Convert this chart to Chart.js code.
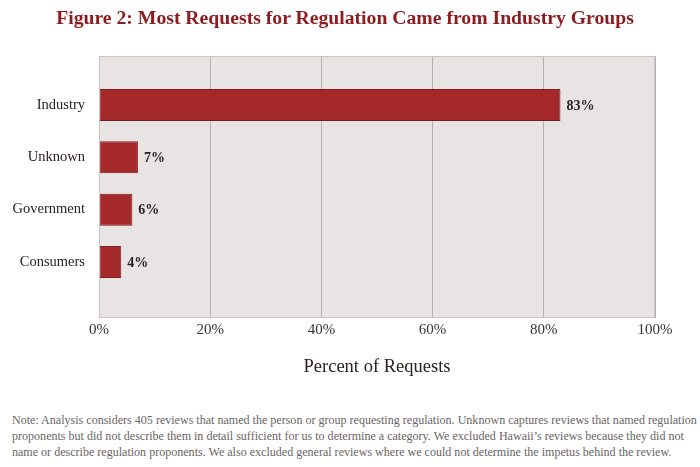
<!DOCTYPE html>
<html>
<head>
<meta charset="utf-8">
<script src="https://cdn.jsdelivr.net/npm/chart.js@4.4.1/dist/chart.umd.min.js"></script>
<style>
  html, body { margin: 0; padding: 0; background: #ffffff; }
  #wrap { position: relative; width: 700px; height: 467px; overflow: hidden; }
  #box { position: absolute; left: 0; top: 0; width: 700px; height: 392px; }
  #title { position: absolute; left: 0; top: 5px; width: 690px; text-align: center;
           font-family: "Liberation Serif", serif; font-weight: bold; font-size: 19.7px; line-height: 24px;
           color: #8c1c1e; white-space: nowrap; }
  #note { position: absolute; left: 12px; top: 412px; width: 700px; font-family: "Liberation Serif", serif;
          font-size: 12.05px; line-height: 16px; color: #6b6462; white-space: nowrap; }
</style>
</head>
<body>
<div id="wrap">
  <div id="box"><canvas id="c"></canvas></div>
  <div id="title">Figure 2: Most Requests for Regulation Came from Industry Groups</div>
  <div id="note">Note: Analysis considers 405 reviews that named the person or group requesting regulation. Unknown captures reviews that named regulation<br>proponents but did not describe them in detail sufficient for us to determine a category. We excluded Hawaii’s reviews because they did not<br>name or describe regulation proponents. We also excluded general reviews where we could not determine the impetus behind the review.</div>
</div>
<script>
const categories = ["Industry", "Unknown", "Government", "Consumers"];
const percentValues = [83, 7, 6, 4];
const xTickValues = [0, 20, 40, 60, 80, 100];

const SERIF = '"Liberation Serif", "Times New Roman", serif';

const plotBackground = {
  id: 'plotBackground',
  beforeDraw(chart) {
    const { ctx, chartArea: a } = chart;
    ctx.save();
    ctx.fillStyle = '#e8e4e3';
    ctx.fillRect(a.left, a.top, a.right - a.left, a.bottom - a.top);
    ctx.restore();
  },
  afterDatasetsDraw(chart) {
    const { ctx, chartArea: a } = chart;
    ctx.save();
    ctx.strokeStyle = '#c9c4c1';
    ctx.lineWidth = 1;
    ctx.strokeRect(a.left + 0.5, a.top + 0.5, a.right - a.left - 1, a.bottom - a.top - 1);
    ctx.restore();
  }
};

const valueLabels = {
  id: 'valueLabels',
  afterDatasetsDraw(chart) {
    const { ctx } = chart;
    const meta = chart.getDatasetMeta(0);
    ctx.save();
    ctx.font = 'bold 14px ' + SERIF;
    ctx.fillStyle = '#2b2220';
    ctx.textAlign = 'left';
    ctx.textBaseline = 'middle';
    meta.data.forEach((bar, i) => {
      ctx.fillText(percentValues[i] + '%', bar.x + 6, bar.y + 1);
    });
    ctx.restore();
  }
};

new Chart(document.getElementById('c'), {
  type: 'bar',
  data: {
    datasets: [{
      data: percentValues.map((v, i) => ({ x: v, y: i })),
      backgroundColor: '#a5292b',
      borderColor: '#7e1d1f',
      borderWidth: 1,
      borderSkipped: false,
      categoryPercentage: 0.68,
      barPercentage: 0.9
    }]
  },
  options: {
    indexAxis: 'y',
    responsive: true,
    maintainAspectRatio: false,
    animation: false,
    layout: { padding: { left: 0, right: 45, top: 56, bottom: 0 } },
    plugins: {
      legend: { display: false },
      tooltip: { enabled: false },
      title: { display: false }
    },
    scales: {
      x: {
        type: 'linear',
        min: 0,
        max: 100,
        afterBuildTicks(s) { s.ticks = xTickValues.map(v => ({ value: v })); },
        afterFit(s) { s.height = 392 - 318; },
        ticks: {
          callback: v => v + '%',
          color: '#3a3230',
          font: { family: SERIF, size: 15 },
          padding: 3,
          maxRotation: 0
        },
        grid: { color: '#b7b2af', drawTicks: false, lineWidth: 1 },
        border: { display: false },
        title: {
          display: true,
          text: 'Percent of Requests',
          color: '#2b2220',
          font: { family: SERIF, size: 18.5, lineHeight: 1.2 },
          padding: { top: 0, bottom: 14 }
        }
      },
      y: {
        type: 'linear',
        reverse: true,
        offset: false,
        min: -0.936,
        max: 4.07,
        afterBuildTicks(s) { s.ticks = categories.map((c, i) => ({ value: i })); },
        afterFit(s) { s.width = 99; },
        ticks: {
          callback: v => categories[v],
          color: '#2b2220',
          font: { family: SERIF, size: 14.5 },
          padding: 14,
          autoSkip: false
        },
        grid: { display: false, drawTicks: false, offset: false },
        border: { display: false }
      }
    }
  },
  plugins: [plotBackground, valueLabels]
});
</script>
</body>
</html>
